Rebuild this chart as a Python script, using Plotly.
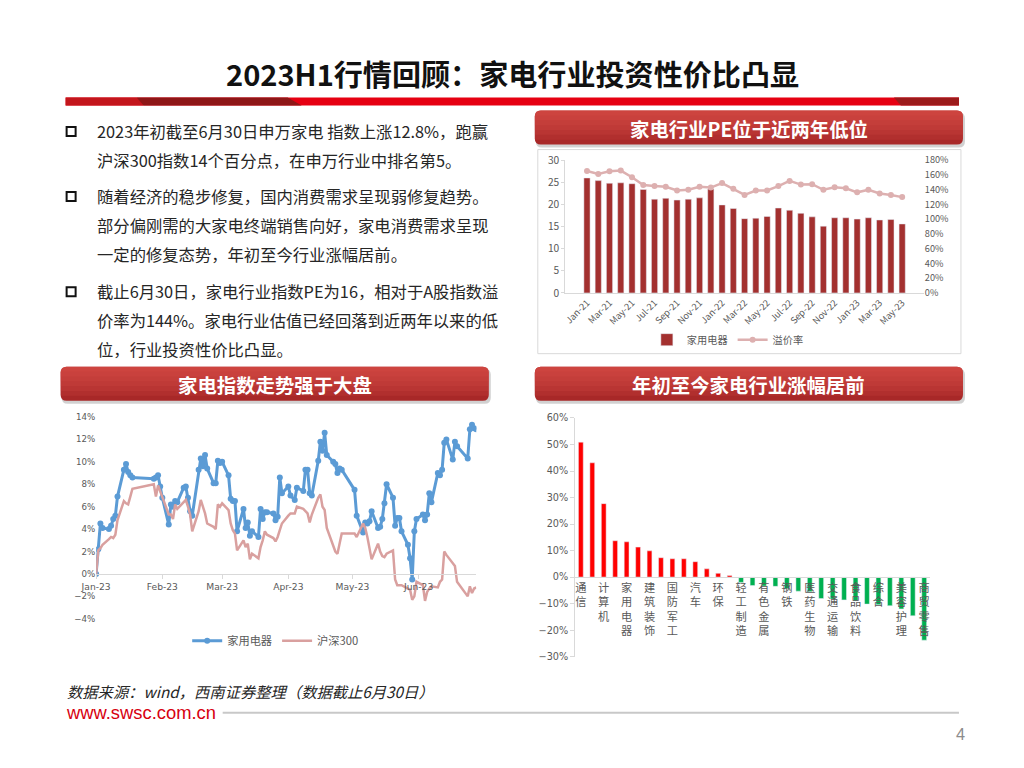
import plotly.graph_objects as go
import pandas as pd

W, H = 1024, 768
# mapping from reference-picture pixels to figure pixels (compensates the capture's scale/offset)
SX, OX, SY, OY = 0.984, 15.4, 0.980, 8.5
def px(x): return ((x - OX) / SX) / W
def py(y): return 1 - ((y - OY) / SY) / H
def fs(s): return s / SY

# ---------------- data ----------------
pe_months = ["Jan-21","Feb-21","Mar-21","Apr-21","May-21","Jun-21","Jul-21","Aug-21","Sep-21","Oct-21","Nov-21","Dec-21",
             "Jan-22","Feb-22","Mar-22","Apr-22","May-22","Jun-22","Jul-22","Aug-22","Sep-22","Oct-22","Nov-22","Dec-22",
             "Jan-23","Feb-23","Mar-23","Apr-23","May-23"]
pe_values = [26.0, 25.4, 24.8, 24.9, 24.7, 23.4, 21.2, 21.4, 21.0, 21.2, 21.5, 23.5,
             19.9, 19.1, 16.8, 16.9, 17.3, 19.2, 18.7, 18.0, 17.2, 15.1, 17.0, 17.0,
             16.7, 17.0, 16.5, 16.6, 15.6]
premium = [165.5, 161.5, 165, 166, 157, 146.5, 145, 144, 139, 140, 144, 143,
           149, 141.5, 133, 139, 139, 145, 152, 147, 147.5, 140, 143.5, 142,
           136.5, 140, 135, 133, 130]

holidays = ["2023-01-23","2023-01-24","2023-01-25","2023-01-26","2023-01-27",
            "2023-04-05","2023-05-01","2023-05-02","2023-05-03","2023-06-22","2023-06-23"]
trade_dates = [d for d in pd.bdate_range("2023-01-03", "2023-06-30") if d.strftime("%Y-%m-%d") not in holidays]

jiadian = [0.0, 2.2, 4.5, 4.1, 4.0, 4.3, 4.9, 5.2, 6.9, 9.3, 9.8, 9.1, 8.8, 8.6, 8.5, 8.6,
           8.8, 7.8, 6.8, 4.4, 6.2, 6.0, 6.5, 6.4, 7.7, 7.8, 6.8, 5.6, 5.2, 9.3, 10.3, 9.6, 10.6, 9.4, 8.1, 8.1,
           10.1, 9.9, 10.0, 8.8, 6.7, 6.5, 6.5, 3.8, 5.8, 4.1, 4.6, 3.4, 3.8, 3.3, 5.8, 4.9, 5.5, 5.5, 5.4, 4.8, 5.1, 8.6, 7.2,
           7.8, 7.0, 6.6, 7.7, 7.4, 9.3, 9.3, 7.2, 7.0, 10.1, 11.8, 11.0, 12.6, 10.6, 10.0, 9.8, 9.0, 9.4, 9.3,
           7.5, 5.2, 3.7, 4.6, 4.5, 4.7, 5.6, 4.1, 4.2, 4.9, 6.3, 8.0, 6.8, 4.3, 5.0, 5.0, 3.8, 2.6, 1.4, -0.5,
           3.8, 4.9, 5.3, 4.8, 5.3, 7.2, 6.4, 9.0, 8.8, 9.3, 11.7, 12.0, 10.2, 11.8, 11.4, 10.3, 12.9, 13.3, 13.0, 12.9]
hs300 = [0.0, 2.1, 2.3, 2.6, 3.1, 3.3, 3.2, 3.5, 4.8, 6.5, 6.3, 6.2, 6.9, 7.6, 8.0, 6.9,
         7.9, 7.4, 6.9, 5.3, 5.3, 4.9, 6.2, 5.8, 6.4, 6.6, 6.0, 5.3, 3.8, 5.6, 6.6, 6.0, 5.4, 4.5, 4.2, 4.0,
         6.2, 6.0, 6.3, 5.7, 4.5, 3.9, 3.6, 2.1, 3.0, 2.4, 2.7, 1.3, 1.8, 1.4, 2.4, 3.0, 3.8, 3.5, 3.2, 2.9, 3.3, 3.9, 4.5,
         5.2, 5.4, 5.4, 6.0, 5.8, 5.6, 5.4, 4.6, 5.3, 6.8, 7.1, 6.0, 5.7, 4.1, 2.6, 2.0, 1.8, 2.7, 3.6,
         3.6, 3.3, 4.5, 4.1, 3.3, 2.4, 1.3, 2.7, 2.0, 1.6, 1.5, 1.8, 2.1, -0.5, -1.0, -1.0, -1.0, -1.3, -1.4, -2.3,
         -2.0, -0.7, -1.0, -2.4, -1.6, -1.3, -1.1, -1.2, -0.7, -0.5, 2.0, 1.7, 1.0, 0.7, -0.7, -2.0, -1.1, -1.7, -1.3, -1.2]
month_ticks = ["2023-01-03", "2023-02-03", "2023-03-03", "2023-04-03", "2023-05-03", "2023-06-03"]

industries = ["通信","传媒","计算机","机械设备","家用电器","石油石化","建筑装饰","公用事业","国防军工","电子","汽车",
              "纺织服饰","环保","煤炭","轻工制造","银行","有色金属","建筑材料","钢铁","非银金融","医药生物","基础化工",
              "交通运输","农林牧渔","食品饮料","房地产","综合","电力设备","美容护理","社会服务","商贸零售"]
ytd_return = [50.9, 43.1, 27.7, 13.7, 13.3, 11.3, 9.9, 7.3, 6.9, 6.9, 5.8, 3.1, 1.4, 0.6,
              -2.0, -3.2, -3.4, -3.5, -4.4, -5.3, -5.5, -8.1, -8.3, -8.6, -9.0, -10.2, -10.4, -10.8, -12.0, -14.6, -23.8]

# ---------------- figure ----------------
FONT = "Noto Sans CJK SC"
GREY = "#595959"
fig = go.Figure()

fig.add_trace(go.Bar(x=pe_months, y=pe_values, name="家用电器", marker_color="#a3302f",
                     width=0.55, xaxis="x", yaxis="y", legend="legend"))
fig.add_trace(go.Scatter(x=pe_months, y=premium, name="溢价率", mode="lines+markers",
                         line=dict(color="#ddb0b0", width=2.5), marker=dict(size=6, color="#ddb0b0"),
                         xaxis="x", yaxis="y2", legend="legend"))

fig.add_trace(go.Scatter(x=trade_dates, y=jiadian, name="家用电器", mode="lines+markers",
                         line=dict(color="#5b9bd5", width=3), marker=dict(size=6, color="#5b9bd5"),
                         xaxis="x2", yaxis="y3", legend="legend2"))
fig.add_trace(go.Scatter(x=trade_dates, y=hs300, name="沪深300", mode="lines",
                         line=dict(color="#d9a09f", width=2.5),
                         xaxis="x2", yaxis="y3", legend="legend2"))

bar_colors = ["#ff0000" if v >= 0 else "#00b050" for v in ytd_return]
fig.add_trace(go.Bar(x=industries, y=ytd_return, marker_color=bar_colors, width=0.42,
                     showlegend=False, xaxis="x3", yaxis="y4"))

line_y0, line_y1 = py(619), py(417.3)
line_zero = line_y0 + 4 / 18 * (line_y1 - line_y0)
bar_y0, bar_y1 = py(656.8), py(418.3)
bar_zero = bar_y0 + 30 / 90 * (bar_y1 - bar_y0)

fig.update_layout(
    width=W, height=H, margin=dict(l=0, r=0, t=0, b=0),
    paper_bgcolor="white", plot_bgcolor="rgba(0,0,0,0)",
    font=dict(family=FONT, color=GREY),
    bargap=0.45,
    xaxis=dict(domain=[px(564.5), px(922.9)], anchor="y", type="category",
               tickvals=pe_months[::2], tickangle=-45, tickfont=dict(family=FONT, size=fs(9), color=GREY),
               showline=True, linecolor="#d9d9d9", ticks="", showgrid=False),
    yaxis=dict(domain=[py(293.3), py(160.7)], range=[0, 30], dtick=5, showgrid=False,
               showline=True, linecolor="#d9d9d9", ticks="outside", ticklen=3, tickcolor="#d9d9d9",
               tickfont=dict(family=FONT, size=fs(10), color=GREY), zeroline=False),
    yaxis2=dict(overlaying="y", side="right", anchor="x", range=[0, 180], dtick=20, ticksuffix="%",
                showgrid=False, showline=False, zeroline=False,
                tickfont=dict(family=FONT, size=fs(9), color=GREY)),
    xaxis2=dict(domain=[px(95.5), px(475.5)], anchor="free", position=line_zero, type="date",
                range=["2023-01-03", "2023-06-30"], tickvals=month_ticks, tickformat="%b-%y",
                showline=True, linecolor="#d9d9d9", ticks="outside", ticklen=4, tickcolor="#d9d9d9",
                showgrid=False, tickfont=dict(family="DejaVu Sans", size=fs(9), color=GREY)),
    yaxis3=dict(domain=[line_y0, line_y1], anchor="x2", range=[-4, 14], dtick=2, ticksuffix="%",
                showgrid=False, showline=False, zeroline=False,
                tickfont=dict(family="DejaVu Sans", size=fs(8.5), color=GREY)),
    xaxis3=dict(domain=[px(574.3), px(929)], anchor="free", position=bar_zero, type="category",
                tickvals=industries[::2], ticktext=["<br>".join(list(n)) for n in industries[::2]],
                tickangle=0, showline=True, linecolor="#d9d9d9", ticks="", showgrid=False,
                tickfont=dict(family=FONT, size=fs(11), color=GREY)),
    yaxis4=dict(domain=[bar_y0, bar_y1], anchor="x3", range=[-30, 60], dtick=10, ticksuffix="%",
                showgrid=False, showline=True, linecolor="#d9d9d9", ticks="outside", ticklen=4,
                tickcolor="#d9d9d9", zeroline=False,
                tickfont=dict(family="DejaVu Sans", size=fs(9.5), color=GREY)),
    legend=dict(orientation="h", x=px(727), y=py(340), xanchor="center", yanchor="middle",
                font=dict(family=FONT, size=fs(10), color=GREY), bgcolor="rgba(0,0,0,0)"),
    legend2=dict(orientation="h", x=px(275), y=py(641), xanchor="center", yanchor="middle",
                 font=dict(family=FONT, size=fs(11), color=GREY), bgcolor="rgba(0,0,0,0)"),
)

shapes = []
annotations = []

def P(x, y):
    return f"{px(x):.5f},{py(y):.5f}"

def rpath(x0, y0, x1, y1, rt, rb):
    return (f"M {P(x0+rt, y0)} L {P(x1-rt, y0)} Q {P(x1, y0)} {P(x1, y0+rt)} "
            f"L {P(x1, y1-rb)} Q {P(x1, y1)} {P(x1-rb, y1)} L {P(x0+rb, y1)} Q {P(x0, y1)} {P(x0, y1-rb)} "
            f"L {P(x0, y0+rt)} Q {P(x0, y0)} {P(x0+rt, y0)} Z")

def poly(pts):
    return "M " + " L ".join(P(x, y) for x, y in pts) + " Z"

# title band
shapes.append(dict(type="path", path=poly([(65, 98), (958, 98), (958, 106), (65, 106)]),
                   xref="paper", yref="paper", fillcolor="#e60012", line_width=0, layer="above"))
shapes.append(dict(type="path", path=poly([(65, 98), (136, 98), (143, 106), (65, 106)]),
                   xref="paper", yref="paper", fillcolor="#c3161c", line_width=0, layer="above"))
shapes.append(dict(type="path", path=poly([(136, 98), (287, 98), (301, 106), (143, 106)]),
                   xref="paper", yref="paper", fillcolor="#8e1717", line_width=0, layer="above"))
shapes.append(dict(type="path", path=poly([(893, 98), (958, 98), (958, 106), (900, 106)]),
                   xref="paper", yref="paper", fillcolor="#9c1b1b", line_width=0, layer="above"))

# tabs
tabs = [(534, 111, 962, 145, "家电行业PE位于近两年低位"),
        (60, 367, 488, 401, "家电指数走势强于大盘"),
        (534, 367, 962, 401, "年初至今家电行业涨幅居前")]
for x0, y0, x1, y1, txt in tabs:
    shapes.append(dict(type="path", path=rpath(x0+1, y0+2, x1+2, y1+3, 6, 6), xref="paper", yref="paper",
                       fillcolor="rgba(0,0,0,0.18)", line_width=0, layer="above"))
    shapes.append(dict(type="path", path=rpath(x0, y0, x1, y1, 6, 6), xref="paper", yref="paper",
                       fillcolor="#a82828", line_width=0, layer="above"))
    hgt = y1 - y0
    for k in range(6, 0, -1):
        shapes.append(dict(type="path", path=rpath(x0, y0, x1, y0 + hgt * k / 7, 6, 0), xref="paper",
                           yref="paper", fillcolor="rgba(225,85,80,0.17)", line_width=0, layer="above"))
    annotations.append(dict(x=px((x0+x1)/2), y=py((y0+y1)/2 + 1), xref="paper", yref="paper",
                            text=f"<b>{txt}</b>", showarrow=False, xanchor="center", yanchor="middle",
                            font=dict(family=FONT, size=fs(19), color="white")))

# PE chart frame
shapes.append(dict(type="rect", x0=px(537), x1=px(960), y0=py(354), y1=py(150), xref="paper", yref="paper",
                   line=dict(color="#d9d9d9", width=1), fillcolor="rgba(0,0,0,0)", layer="below"))

# bullets
for yb in (132, 197, 292):
    shapes.append(dict(type="rect", x0=px(66), x1=px(75), y0=py(yb+4.5), y1=py(yb-4.5), xref="paper",
                       yref="paper", line=dict(color="#111111", width=2), fillcolor="white"))

# footer line
shapes.append(dict(type="line", x0=px(222), x1=px(958), y0=py(713), y1=py(713), xref="paper", yref="paper",
                   line=dict(color="#c8c8c8", width=2)))

annotations.append(dict(x=px(512), y=py(73), xref="paper", yref="paper",
                        text="<b>2023H1行情回顾：家电行业投资性价比凸显</b>", showarrow=False,
                        xanchor="center", yanchor="middle", font=dict(family=FONT, size=fs(28.5), color="#111111")))

body_lines = [(131, "2023年初截至6月30日申万家电 指数上涨12.8%，跑赢"),
              (160, "沪深300指数14个百分点，在申万行业中排名第5。"),
              (196, "随着经济的稳步修复，国内消费需求呈现弱修复趋势。"),
              (225, "部分偏刚需的大家电终端销售向好，家电消费需求呈现"),
              (254, "一定的修复态势，年初至今行业涨幅居前。"),
              (291, "截止6月30日，家电行业指数PE为16，相对于A股指数溢"),
              (320, "价率为144%。家电行业估值已经回落到近两年以来的低"),
              (349, "位，行业投资性价比凸显。")]
for yl, txt in body_lines:
    annotations.append(dict(x=px(94), y=py(yl), xref="paper", yref="paper", text=txt, showarrow=False,
                            xanchor="left", yanchor="middle", font=dict(family=FONT, size=fs(16), color="#262626")))

annotations.append(dict(x=px(64), y=py(691), xref="paper", yref="paper",
                        text="<i>数据来源：wind，西南证券整理（数据截止6月30日）</i>", showarrow=False,
                        xanchor="left", yanchor="middle", font=dict(family=FONT, size=fs(15), color="#262626")))
annotations.append(dict(x=px(63), y=py(713), xref="paper", yref="paper", text="www.swsc.com.cn",
                        showarrow=False, xanchor="left", yanchor="middle",
                        font=dict(family="Liberation Sans", size=fs(18), color="#d7000f")))
annotations.append(dict(x=px(960), y=py(734), xref="paper", yref="paper", text="4", showarrow=False,
                        xanchor="center", yanchor="middle", font=dict(family="Liberation Sans", size=fs(16), color="#8c8c8c")))

fig.update_layout(shapes=shapes, annotations=annotations)
fig.write_html("out.html", config={"displayModeBar": False},
               post_script="document.body.style.margin='0';document.body.style.overflow='hidden';")
